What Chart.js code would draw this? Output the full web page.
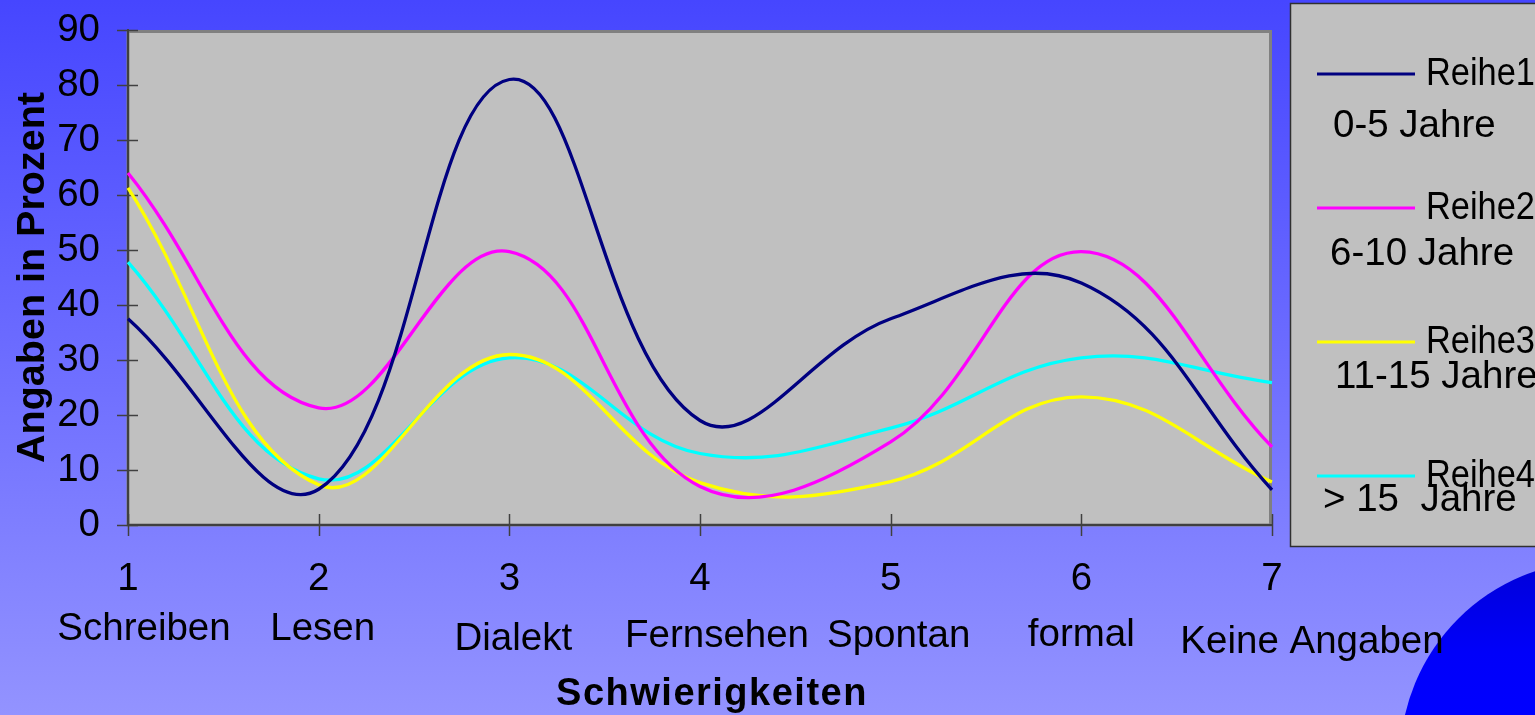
<!DOCTYPE html>
<html>
<head>
<meta charset="utf-8">
<title>Schwierigkeiten nach Alter</title>
<script src="https://cdn.jsdelivr.net/npm/chart.js@4/dist/chart.umd.min.js"></script>
<style>
  html, body { margin: 0; padding: 0; overflow: hidden; background: #6b6bff; }
  canvas { display: block; }
</style>
</head>
<body>
<canvas id="chart" width="1535" height="715"></canvas>
<script>
// Categories (x positions 1..7) and their names
const xTicks = ['1', '2', '3', '4', '5', '6', '7'];
const skills = ['Schreiben', 'Lesen', 'Dialekt', 'Fernsehen', 'Spontan', 'formal', 'Keine Angaben'];

// Series labels and the age group each one stands for
const seriesNames = ['Reihe1', 'Reihe2', 'Reihe3', 'Reihe4'];
const ageGroups = ['0-5 Jahre', '6-10 Jahre', '11-15 Jahre', '> 15  Jahre'];

// Percentages per category
const reihe1 = [37.5, 6.5, 81, 19, 37.5, 44, 6.4];
const reihe2 = [64, 21.3, 49.7, 7, 15.1, 49.7, 14.2];
const reihe3 = [61.3, 7.3, 31, 7.7, 7.9, 23.3, 7.8];
const reihe4 = [47.8, 8.4, 30.4, 13, 17.6, 30.4, 25.9];

// Value axis ticks
const yTicks = [0, 10, 20, 30, 40, 50, 60, 70, 80, 90];

const seriesColors = ['#000080', '#ff00ff', '#ffff00', '#00ffff'];
const FONT = '"Liberation Sans", Arial, Helvetica, sans-serif';
const TEXT_SIZE = 38.5;

Chart.defaults.font.family = FONT;
Chart.defaults.color = '#000000';

// Slide background, decorative disc and the grey plot area
const backdrop = {
  id: 'backdrop',
  beforeDraw(chart) {
    const { ctx, width, height, chartArea: a } = chart;
    ctx.save();
    const g = ctx.createLinearGradient(0, 0, 0, height);
    g.addColorStop(0, '#4646ff');
    g.addColorStop(1, '#9393ff');
    ctx.fillStyle = g;
    ctx.fillRect(0, 0, width, height);

    const d = ctx.createLinearGradient(0, 560, 0, height);
    d.addColorStop(0, '#0000d8');
    d.addColorStop(0.6, '#0000fa');
    d.addColorStop(1, '#0000ff');
    ctx.fillStyle = d;
    ctx.beginPath();
    ctx.arc(1598, 759, 198, 0, Math.PI * 2);
    ctx.fill();

    ctx.fillStyle = '#c0c0c0';
    ctx.fillRect(a.left, a.top, a.right - a.left, a.bottom - a.top);
    ctx.strokeStyle = '#808080';
    ctx.lineWidth = 3;
    ctx.strokeRect(a.left, a.top + 1.5, a.right - a.left - 1.5, a.bottom - a.top - 1.5);
    ctx.restore();
  },
  // tick marks that cross both axes
  beforeDatasetsDraw(chart) {
    const { ctx, chartArea: a, scales: { x, y } } = chart;
    ctx.save();
    ctx.strokeStyle = '#404040';
    ctx.lineWidth = 1.5;
    ctx.beginPath();
    y.ticks.forEach(t => {
      const py = Math.round(y.getPixelForValue(t.value)) + 0.5;
      ctx.moveTo(a.left - 11, py);
      ctx.lineTo(a.left + 10, py);
    });
    xTicks.forEach((_, i) => {
      const px = Math.round(x.getPixelForValue(i)) + 0.5;
      ctx.moveTo(px, a.bottom - 11);
      ctx.lineTo(px, a.bottom + 11);
    });
    ctx.stroke();
    ctx.restore();
  },
  afterDraw(chart) {
    const { ctx, chartArea: a, scales: { x } } = chart;
    ctx.save();
    ctx.fillStyle = '#000000';

    // category names under the tick numbers
    const nameShift = [[16, 115], [4, 115], [4, 125], [17, 122], [8, 122], [0, 121], [40, 128]];
    ctx.font = TEXT_SIZE + 'px ' + FONT;
    ctx.textAlign = 'center';
    ctx.textBaseline = 'alphabetic';
    skills.forEach((s, i) => {
      ctx.fillText(s, x.getPixelForValue(i) + nameShift[i][0], a.bottom + nameShift[i][1]);
    });

    // x axis title
    ctx.font = 'bold 38px ' + FONT;
    if ('letterSpacing' in ctx) ctx.letterSpacing = '1.5px';
    ctx.fillText('Schwierigkeiten', (a.left + a.right) / 2 + 12, 705);
    if ('letterSpacing' in ctx) ctx.letterSpacing = '0px';

    // legend box
    const lx = 1290, ly = 3;
    ctx.fillStyle = '#c0c0c0';
    ctx.fillRect(lx, ly, 300, 543);
    ctx.strokeStyle = '#303030';
    ctx.lineWidth = 1.5;
    ctx.strokeRect(lx + 0.5, ly + 0.5, 300, 543);

    const groupX = [1333, 1330, 1335, 1323];
    const groupDy = [63, 57, 46, 35];
    ctx.font = TEXT_SIZE + 'px ' + FONT;
    ctx.textAlign = 'left';
    chart.data.datasets.forEach((ds, i) => {
      const yy = 74 + i * 134;
      ctx.strokeStyle = ds.borderColor;
      ctx.lineWidth = 3;
      ctx.beginPath();
      ctx.moveTo(1317, yy);
      ctx.lineTo(1415, yy);
      ctx.stroke();
      ctx.fillStyle = '#000000';
      ctx.fillText(ds.label, 1426, yy + 11, 109);
      ctx.fillText(ageGroups[i], groupX[i], yy + groupDy[i]);
    });
    ctx.restore();
  }
};

const datasets = [reihe1, reihe2, reihe3, reihe4].map((vals, i) => ({
  label: seriesNames[i],
  data: vals,
  borderColor: seriesColors[i],
  backgroundColor: seriesColors[i],
  borderWidth: 3.3,
  pointRadius: 0,
  pointHoverRadius: 0,
  tension: 0.4,
  fill: false
}));

new Chart(document.getElementById('chart'), {
  type: 'line',
  data: { labels: xTicks, datasets },
  plugins: [backdrop],
  options: {
    responsive: false,
    animation: false,
    events: [],
    layout: { padding: { left: 0, top: 30, right: 263, bottom: 0 } },
    plugins: {
      legend: { display: false },
      tooltip: { enabled: false }
    },
    scales: {
      x: {
        type: 'category',
        offset: false,
        grid: { display: false, drawTicks: false },
        border: { display: true, color: '#404040', width: 2 },
        ticks: { font: { size: TEXT_SIZE }, padding: 31, maxRotation: 0, autoSkip: false, color: '#000000' },
        afterFit(scale) { scale.height = 190; }
      },
      y: {
        min: yTicks[0],
        max: yTicks[yTicks.length - 1],
        afterBuildTicks(scale) { scale.ticks = yTicks.map(v => ({ value: v })); },
        grid: { display: false, drawTicks: false },
        border: { display: true, color: '#404040', width: 2 },
        ticks: { font: { size: TEXT_SIZE }, padding: 28, color: '#000000' },
        title: {
          display: true,
          text: 'Angaben in Prozent',
          font: { size: 39.5, weight: 'bold' },
          color: '#000000',
          padding: { top: 9.5, bottom: 0 }
        },
        afterFit(scale) {
          scale.width = 128;
          scale.paddingTop = 0;
          scale.paddingBottom = 0;
        }
      }
    }
  }
});
</script>
</body>
</html>
